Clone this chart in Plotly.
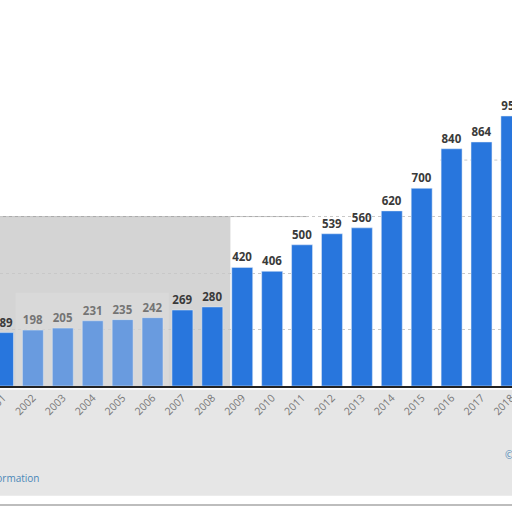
import plotly.graph_objects as go

years = [str(y) for y in range(2001, 2019)]
values = [189, 198, 205, 231, 235, 242, 269, 280, 420, 406,
          500, 539, 560, 620, 700, 840, 864, 956]
grid_vals = [0, 200, 400, 600]

bar_color = "#2876DD"

fig = go.Figure(go.Bar(
    x=years, y=values,
    marker_color=bar_color,
    text=values, textposition="outside", cliponaxis=True,
    textfont=dict(family="Open Sans", size=11.5, color="#3a3a3a", weight="bold"),
))

# grey smudge behind left part, fading over the early bars
fig.add_shape(type="rect", xref="paper", yref="y", x0=0, x1=0.45, y0=0, y1=600,
              fillcolor="rgb(212,212,212)", line_width=0, layer="below")
fig.add_shape(type="line", xref="paper", yref="y", x0=0, x1=0.6, y0=600, y1=600,
              line=dict(color="#a8a8a8", width=1), layer="below")
# 800 gridline only shows on the right (top-left is washed out)
fig.add_shape(type="line", xref="paper", yref="y", x0=0.86, x1=1, y0=800, y1=800,
              line=dict(color="#c8c8c8", width=1, dash="dot"), layer="below")
fig.add_shape(type="rect", xref="paper", yref="paper", x0=0, x1=1, y0=-0.3, y1=-0.01,
              fillcolor="rgb(230,230,230)", line_width=0, layer="below")
fig.add_shape(type="rect", xref="paper", yref="y", x0=0.03, x1=0.33, y0=0, y1=330,
              fillcolor="rgba(225,225,225,0.35)", line_width=0, layer="above")
# bottom rule
fig.add_shape(type="line", xref="paper", yref="paper", x0=0, x1=1, y0=-0.325, y1=-0.325,
              line=dict(color="#bdbdbd", width=2))

fig.add_annotation(text="Additional Information", xref="paper", yref="paper",
                   x=41 / 512, y=-0.277, xanchor="right", showarrow=False,
                   font=dict(family="Open Sans", size=10, color="#4a86b8"))
fig.add_annotation(text="© Statista 2019", xref="paper", yref="paper",
                   x=503 / 512, y=-0.212, xanchor="left", showarrow=False,
                   font=dict(family="Open Sans", size=10, color="#4a86b8"))

fig.update_layout(
    width=512, height=512,
    margin=dict(l=0, r=0, t=20, b=126, autoexpand=False),
    paper_bgcolor="white", plot_bgcolor="white",
    bargap=0.3, showlegend=False,
    xaxis=dict(range=[-0.1, 17.02], tickangle=-45, showline=True, automargin=False,
               linecolor="#222", linewidth=1.5, ticks="",
               tickfont=dict(family="Open Sans", size=10.5, color="#777")),
    yaxis=dict(range=[0, 1296], tickvals=grid_vals, showticklabels=False,
               automargin=False, showgrid=True, gridcolor="#c8c8c8", griddash="dot",
               zeroline=False),
)

fig.write_html("out.html", config={"displayModeBar": False},
               post_script="document.body.style.margin='0';")
